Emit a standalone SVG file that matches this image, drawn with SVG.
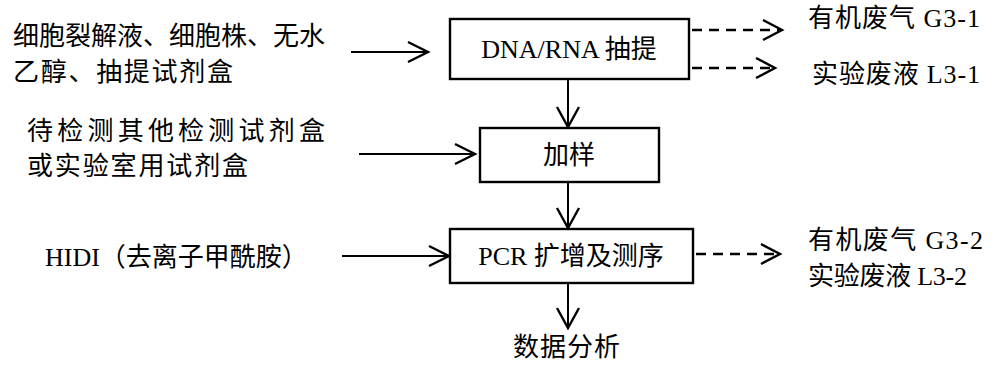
<svg xmlns="http://www.w3.org/2000/svg" width="997" height="372" viewBox="0 0 997 372">
<style>
text{font-family:"Liberation Serif","Noto Sans CJK SC",serif;font-size:26px;fill:#000;}
.box{fill:#fff;stroke:#000;stroke-width:2.4;}
.ln{fill:none;stroke:#000;stroke-width:2;}
.ds{fill:none;stroke:#000;stroke-width:2.4;stroke-dasharray:10,7;}
.hd{fill:none;stroke:#000;stroke-width:2.4;}
</style>
<rect width="997" height="372" fill="#fff"/>
<g id="connectors">
<line class="ln" x1="351" y1="52" x2="427" y2="52"/><polyline class="hd" points="408,42 428,52 408,62"/>
<line class="ln" x1="359" y1="154" x2="474" y2="154"/><polyline class="hd" points="455,144 475,154 455,164"/>
<line class="ln" x1="342" y1="256" x2="448" y2="256"/><polyline class="hd" points="429,246 449,256 429,266"/>
<line class="ln" x1="568" y1="80" x2="568" y2="126"/><polyline class="hd" points="557,107 568,127 579,107"/>
<line class="ln" x1="568" y1="183" x2="568" y2="227"/><polyline class="hd" points="557,208 568,228 579,208"/>
<line class="ln" x1="568" y1="284" x2="568" y2="327"/><polyline class="hd" points="557,308 568,328 579,308"/>
<line class="ds" x1="692" y1="30" x2="780" y2="30"/><polyline class="hd" points="763,20 782,30 763,40"/>
<line class="ds" x1="692" y1="68" x2="773" y2="68"/><polyline class="hd" points="756,58 775,68 756,78"/>
<line class="ds" x1="696" y1="254" x2="778" y2="254"/><polyline class="hd" points="761,244 780,254 761,264"/>
</g>
<g id="node-dna"><rect class="box" x="450" y="19" width="239" height="60"/><text x="569" y="58" text-anchor="middle">DNA/RNA 抽提</text></g>
<g id="node-jiayang"><rect class="box" x="480" y="128" width="179" height="54"/><text x="569" y="164" text-anchor="middle">加样</text></g>
<g id="node-pcr"><rect class="box" x="450" y="229" width="243" height="54"/><text x="571" y="265" text-anchor="middle">PCR 扩增及测序</text></g>
<g id="input-1"><text x="13" y="45">细胞裂解液、细胞株、无水</text><text x="13" y="81" textLength="220" lengthAdjust="spacing">乙醇、抽提试剂盒</text></g>
<g id="input-2"><text x="27" y="140" textLength="298" lengthAdjust="spacing">待检测其他检测试剂盒</text><text x="27" y="175" textLength="221" lengthAdjust="spacing">或实验室用试剂盒</text></g>
<g id="input-3"><text x="45" y="266">HIDI（去离子甲酰胺）</text></g>
<g id="out-1"><text x="808" y="27" textLength="172" lengthAdjust="spacing">有机废气 G3-1</text><text x="812" y="83" textLength="168" lengthAdjust="spacing">实验废液 L3-1</text></g>
<g id="out-2"><text x="808" y="249" textLength="175" lengthAdjust="spacing">有机废气 G3-2</text><text x="808" y="285" textLength="159" lengthAdjust="spacing">实验废液 L3-2</text></g>
<g id="output"><text x="513" y="356" textLength="107" lengthAdjust="spacing">数据分析</text></g>
</svg>
